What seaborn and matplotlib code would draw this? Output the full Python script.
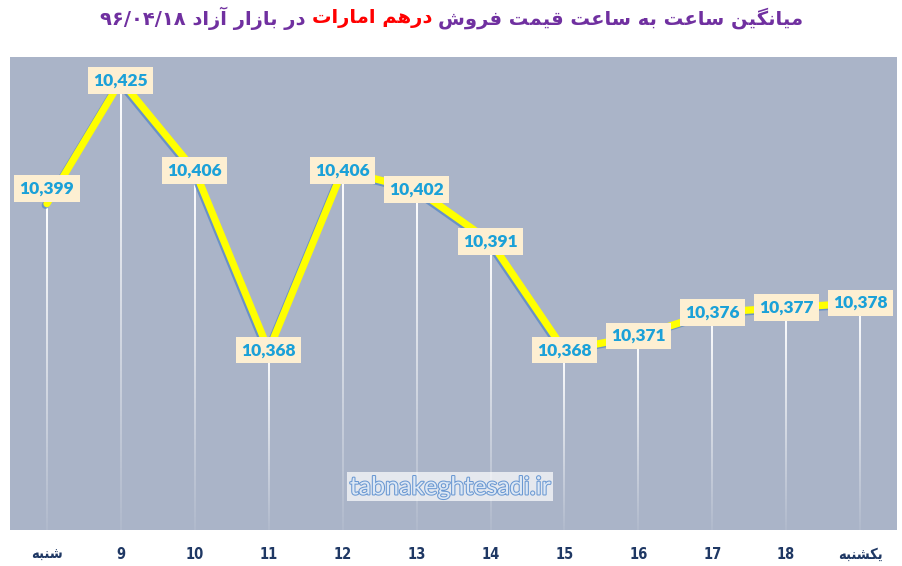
import numpy as np
import pandas as pd
import matplotlib
matplotlib.use("Agg")
import matplotlib.pyplot as plt
import matplotlib.patheffects as pe
import seaborn as sns

# data
categories = ['شنبه', '9', '10', '11', '12', '13', '14', '15', '16', '17', '18', 'یکشنبه']
prices = [10399, 10425, 10406, 10368, 10406, 10402, 10391, 10368, 10371, 10376, 10377, 10378]
titleStart = 'میانگین ساعت به ساعت قیمت فروش'
titleRed = 'درهم امارات'
titleEnd = 'در بازار آزاد ۹۶/۰۴/۱۸'
watermark = 'tabnakeghtesadi.ir'

# isolated, final, initial, medial
FORMS = {
    'ا': ('\uFE8D', '\uFE8E', None, None),
    'آ': ('\uFE81', '\uFE82', None, None),
    'ب': ('\uFE8F', '\uFE90', '\uFE91', '\uFE92'),
    'ت': ('\uFE95', '\uFE96', '\uFE97', '\uFE98'),
    'د': ('\uFEA9', '\uFEAA', None, None),
    'ر': ('\uFEAD', '\uFEAE', None, None),
    'ز': ('\uFEAF', '\uFEB0', None, None),
    'س': ('\uFEB1', '\uFEB2', '\uFEB3', '\uFEB4'),
    'ش': ('\uFEB5', '\uFEB6', '\uFEB7', '\uFEB8'),
    'ع': ('\uFEC9', '\uFECA', '\uFECB', '\uFECC'),
    'ف': ('\uFED1', '\uFED2', '\uFED3', '\uFED4'),
    'ق': ('\uFED5', '\uFED6', '\uFED7', '\uFED8'),
    'ل': ('\uFEDD', '\uFEDE', '\uFEDF', '\uFEE0'),
    'م': ('\uFEE1', '\uFEE2', '\uFEE3', '\uFEE4'),
    'ن': ('\uFEE5', '\uFEE6', '\uFEE7', '\uFEE8'),
    'ه': ('\uFEE9', '\uFEEA', '\uFEEB', '\uFEEC'),
    'و': ('\uFEED', '\uFEEE', None, None),
    'ی': ('\uFBFC', '\uFBFD', '\uFBFE', '\uFBFF'),
    'ک': ('\uFB8E', '\uFB8F', '\uFB90', '\uFB91'),
    'گ': ('\uFB92', '\uFB93', '\uFB94', '\uFB95'),
}


def shapeWord(word):
    out = []
    for i, ch in enumerate(word):
        if ch not in FORMS:
            out.append(ch)
            continue
        iso, fin, ini, med = FORMS[ch]
        prev = word[i - 1] if i > 0 else None
        nxt = word[i + 1] if i + 1 < len(word) else None
        joinPrev = prev in FORMS and FORMS[prev][2] is not None
        joinNext = nxt in FORMS and ini is not None
        if joinPrev and joinNext:
            out.append(med)
        elif joinPrev:
            out.append(fin)
        elif joinNext:
            out.append(ini)
        else:
            out.append(iso)
    return ''.join(out)


def visual(text):
    tokens = []
    for t in text.split(' '):
        if any(c in FORMS for c in t):
            tokens.append(shapeWord(t)[::-1])
        else:
            tokens.append(t)
    return ' '.join(reversed(tokens))


sns.set_style("white")
plt.rcParams['font.family'] = ['DejaVu Sans']

df = pd.DataFrame({'pos': np.arange(len(prices)), 'price': prices})

fig = plt.figure(figsize=(9.03, 5.66), dpi=100)
ax = fig.add_axes([10 / 903, 36 / 566, 887 / 903, 473 / 566])
ax.set_facecolor('#aab4c8')

ymin, ymax = 10330, 10430
xmin, xmax = -0.5, len(prices) - 0.5

# fading drop lines (white, alpha gradient top -> bottom)
grad = np.ones((100, 1, 4))
grad[:, 0, 3] = np.linspace(1.0, 0.08, 100)
halfW = 0.0125
for x, y in zip(df['pos'], df['price']):
    ax.imshow(grad, extent=(x - halfW, x + halfW, ymin, y), aspect='auto',
              interpolation='bilinear', zorder=2)

sns.lineplot(data=df, x='pos', y='price', ax=ax, color='#ffff00', linewidth=5.2,
             zorder=3, solid_joinstyle='miter',
             path_effects=[pe.SimpleLineShadow(offset=(-1.2, -1.2), shadow_color='#5a8ac6', alpha=0.8),
                           pe.Normal()])

ax.set_ylim(ymin, ymax)
ax.set_xlim(xmin, xmax)

for i, (x, y) in enumerate(zip(df['pos'], df['price'])):
    dy = 11 if i == 0 else 0
    ax.annotate(f'{y:,}', (x, y), xytext=(0, dy), textcoords='offset points',
                ha='center', va='center', fontsize=12.5, fontweight='heavy',
                family=['Lato', 'DejaVu Sans'], color='#1ba1d8', zorder=5,
                bbox=dict(boxstyle='square,pad=0.3', fc='#fdefd2', ec='none'))

ax.set_xticks(df['pos'])
ax.set_xticklabels([visual(c) for c in categories], fontsize=10.5, fontweight='bold',
                   fontstretch='condensed', color='#1f3864',
                   family=['Liberation Sans Narrow', 'DejaVu Sans'])
ax.tick_params(axis='x', length=0, pad=12)
ax.set_yticks([])
ax.set_xlabel('')
ax.set_ylabel('')
for s in ax.spines.values():
    s.set_visible(False)

ax.text(0.496, 0.091, watermark, transform=ax.transAxes, ha='center', va='center',
        fontsize=18, family=['Lato', 'DejaVu Sans'], color='#dde8f5', zorder=4,
        path_effects=[pe.withStroke(linewidth=1.5, foreground='#6a98d2')],
        bbox=dict(boxstyle='square,pad=0.12', fc='white', ec='none', alpha=0.7))

# multi-colored title, pieces in visual order (left to right)
pieces = [(visual(titleEnd), '#7030a0'), (visual(titleRed), '#ff0000'), (visual(titleStart), '#7030a0')]
texts = [fig.text(0, 1 - 18 / 566, s, color=c, fontsize=14, fontweight='bold', va='center')
         for s, c in pieces]
renderer = fig.canvas.get_renderer()
widths = [t.get_window_extent(renderer).width for t in texts]
gap = 6
total = sum(widths) + gap * (len(widths) - 1)
left = 452 - total / 2
for t, w in zip(texts, widths):
    t.set_x(left / 903)
    left += w + gap

fig.savefig('out.png', dpi=100)
